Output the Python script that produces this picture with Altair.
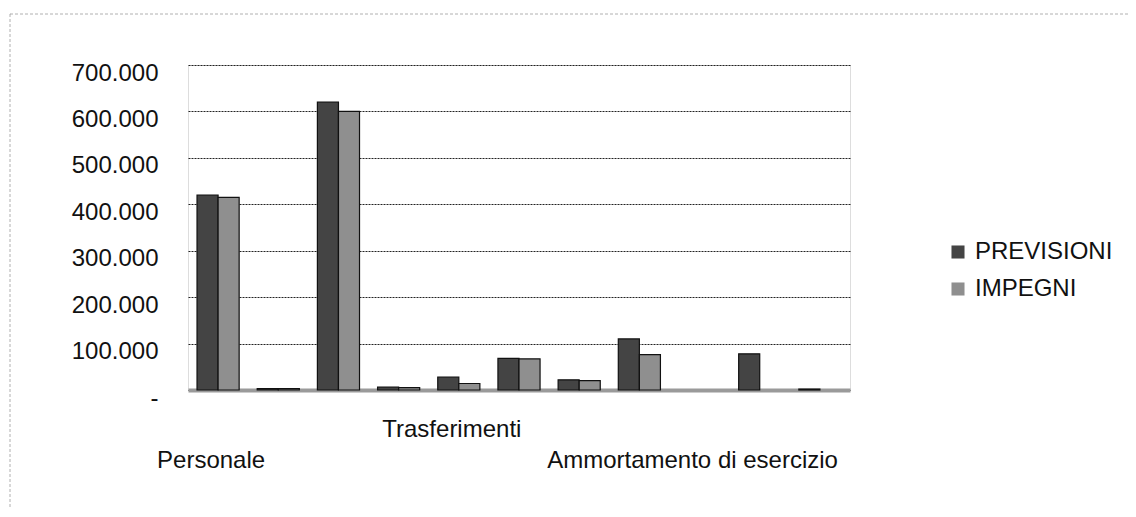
import altair as alt
import pandas as pd

categories = [
    "Personale",
    "Acquisto di beni",
    "Prestazioni di servizi",
    "Utilizzo di beni di terzi",
    "Trasferimenti",
    "Interessi passivi",
    "Imposte e tasse",
    "Oneri straordinari",
    "Ammortamento di esercizio",
    "Fondo svalutazione crediti",
    "Fondo di riserva",
]
previsioni = [420000, 3000, 620000, 6000, 28000, 68000, 22000, 110000, 0, 78000, 2000]
impegni = [415000, 3000, 600000, 5000, 14000, 67000, 20000, 76000, 0, 0, 0]
series = ["PREVISIONI", "IMPEGNI"]
y_ticks = [0, 100000, 200000, 300000, 400000, 500000, 600000, 700000]
shown_low = ["Personale", "Ammortamento di esercizio"]
shown_high = ["Trasferimenti"]

rows = []
for c, p, i in zip(categories, previsioni, impegni):
    rows.append({"cat": c, "serie": series[0], "val": p})
    rows.append({"cat": c, "serie": series[1], "val": i})
df = pd.DataFrame(rows)

FONT = "Liberation Sans"

label_expr = (
    "indexof(" + str(shown_low).replace("'", '"') + ", datum.label) >= 0 ? ['', datum.label] : "
    "(indexof(" + str(shown_high).replace("'", '"') + ", datum.label) >= 0 ? datum.label : '')"
)

bars = alt.Chart(df).transform_filter("datum.val > 0").mark_bar(
    stroke="#111111", strokeWidth=1.2
).encode(
    x=alt.X(
        "cat:N",
        sort=categories,
        scale=alt.Scale(domain=categories, paddingInner=0.3, paddingOuter=0.15),
        axis=alt.Axis(
            title=None,
            ticks=False,
            domain=True,
            domainColor="#9a9a9a",
            domainWidth=4,
            labelAngle=0,
            labelExpr=label_expr,
            labelOverlap=False,
            labelBound=False,
            labelFlush=False,
            labelLimit=0,
            labelOffset=-7,
            labelPadding=27,
            labelLineHeight=31,
            labelFontSize=24,
            labelFont=FONT,
            labelColor="#111111",
        ),
    ),
    xOffset=alt.XOffset("serie:N", sort=series, scale=alt.Scale(domain=series)),
    y=alt.Y(
        "val:Q",
        scale=alt.Scale(domain=[0, 700000], nice=False),
        axis=alt.Axis(
            title=None,
            values=y_ticks,
            ticks=False,
            domain=False,
            grid=True,
            gridColor="#222222",
            gridDash=[2, 1],
            gridWidth=1.2,
            labelExpr="datum.value == 0 ? '-' : replace(format(datum.value, ',.0f'), ',', '.')",
            labelOffset=8,
            labelPadding=30,
            labelFontSize=24,
            labelFont=FONT,
            labelColor="#111111",
        ),
    ),
    color=alt.Color(
        "serie:N",
        sort=series,
        scale=alt.Scale(domain=series, range=["#444444", "#8f8f8f"]),
        legend=alt.Legend(
            title=None,
            orient="none",
            legendX=758,
            legendY=175,
            symbolType="square",
            symbolSize=170,
            symbolStrokeWidth=0,
            labelFontSize=24,
            labelFont=FONT,
            labelColor="#111111",
            rowPadding=13,
            symbolOffset=0,
            labelOffset=5,
        ),
    ),
)

frame = alt.Chart(pd.DataFrame({"k": [0]})).mark_rect(
    fill=None, stroke="#b0b0b0", strokeWidth=1, strokeDash=[3, 2]
).encode(
    x=alt.value(-178), x2=alt.value(980), y=alt.value(-51), y2=alt.value(480)
)

chart = alt.layer(frame, bars).properties(
    width=662,
    height=325,
    autosize=alt.AutoSizeParams(type="none"),
    padding={"left": 180, "top": 57, "right": 278, "bottom": 119},
).configure_view(
    stroke="#9a9a9a", strokeDash=[2, 2], strokeWidth=1
).configure(background="white")

chart.save("out.html", embed_options={"renderer": "svg", "actions": False})
